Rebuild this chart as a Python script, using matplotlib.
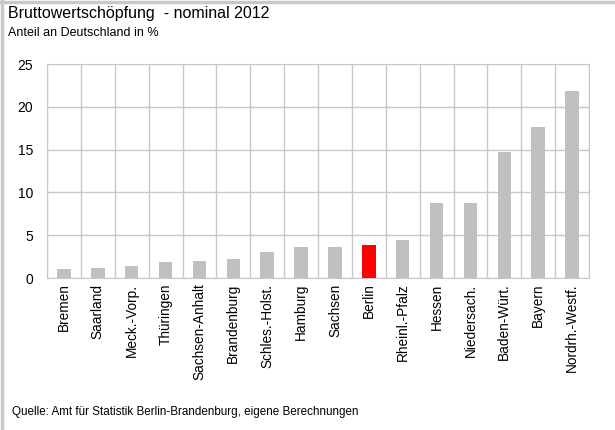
import matplotlib
matplotlib.use("Agg")
import matplotlib.pyplot as plt
from matplotlib.lines import Line2D

plt.rcParams['font.family'] = ['Liberation Sans', 'DejaVu Sans']

laender = ['Bremen', 'Saarland', 'Meck.-Vorp.', 'Thüringen', 'Sachsen-Anhalt',
           'Brandenburg', 'Schles.-Holst.', 'Hamburg', 'Sachsen', 'Berlin',
           'Rheinl.-Pfalz', 'Hessen', 'Niedersach.', 'Baden-Würt.', 'Bayern',
           'Nordrh.-Westf.']
anteil = [1.1, 1.2, 1.4, 1.9, 2.0, 2.2, 3.0, 3.6, 3.6, 3.8, 4.4, 8.8, 8.8,
          14.7, 17.6, 21.9]
highlight = 'Berlin'
yticks = [0, 5, 10, 15, 20, 25]

W, H = 615, 430
fig = plt.figure(figsize=(W/100, H/100), dpi=100)
ax = fig.add_axes([47/W, 1-278/H, (589-47)/W, (278-64)/H])

colors = ['#ff0000' if l == highlight else '#c0c0c0' for l in laender]
x = range(len(laender))
ax.bar(x, anteil, width=0.4, color=colors, zorder=3)

ax.set_xlim(-0.5, len(laender)-0.5)
ax.set_ylim(0, 25)
ax.set_yticks(yticks)
ax.set_yticklabels([str(v) for v in yticks], fontsize=10)
ax.set_xticks(list(x))
ax.set_xticklabels(laender, rotation=90, fontsize=9.8)
ax.tick_params(length=0, pad=4)
ax.tick_params(axis='y', pad=10)

# grid: horizontal at ticks, vertical at category boundaries
for v in yticks:
    ax.axhline(v, color='#c8c8c8', lw=1, zorder=1)
for b in range(len(laender)+1):
    ax.axvline(b-0.5, color='#c8c8c8', lw=1, zorder=1)
for s in ax.spines.values():
    s.set_color('#c8c8c8')

fig.text(8/W, 1-6/H, 'Bruttowertschöpfung  - nominal 2012', fontsize=11.5,
         va='top', ha='left')
fig.text(8/W, 1-27/H, 'Anteil an Deutschland in %', fontsize=9,
         va='top', ha='left')
fig.text(12/W, 1-412/H, 'Quelle: Amt für Statistik Berlin-Brandenburg, eigene Berechnungen',
         fontsize=8.4, va='center', ha='left')

# frame only on top and left edge
fig.add_artist(Line2D([1.5/W, 1.5/W], [0, 1], transform=fig.transFigure,
                      color='#c8c8c8', lw=2.5))
fig.add_artist(Line2D([0, 1], [1-1.5/H, 1-1.5/H], transform=fig.transFigure,
                      color='#c8c8c8', lw=2.5))

fig.savefig('out.png', dpi=100)
